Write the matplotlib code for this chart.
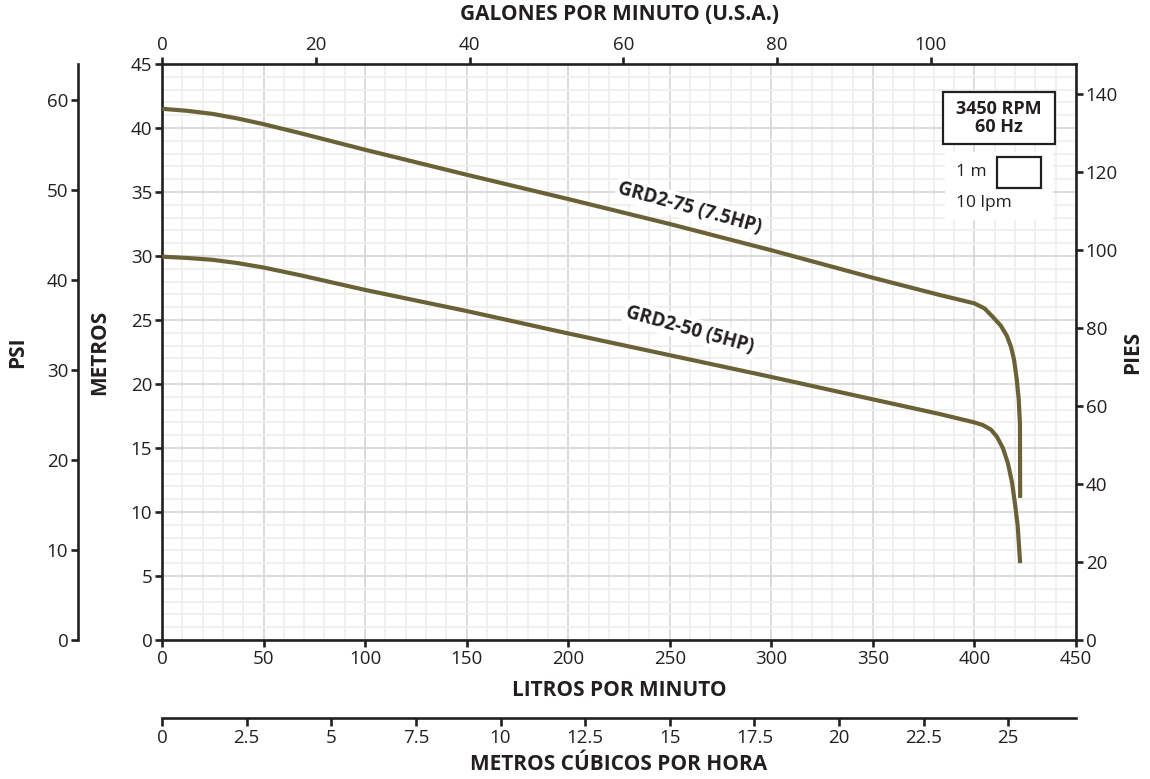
import matplotlib
matplotlib.use("Agg")
import matplotlib.pyplot as plt
from matplotlib.patches import Rectangle
from matplotlib.ticker import MultipleLocator, FuncFormatter
import numpy as np

plt.rcParams['font.family'] = ['Open Sans', 'DejaVu Sans']

# ---- data (flow in litres per minute, head in metres) ----
grd75_lpm = [0, 12, 25, 37, 50, 68, 100, 150, 200, 250, 300, 350, 383, 400, 405, 409, 413, 416, 418, 419.5, 420.8, 421.8, 422.4, 422.5]
grd75_m   = [41.5, 41.35, 41.1, 40.75, 40.3, 39.6, 38.3, 36.35, 34.45, 32.5, 30.45, 28.3, 26.95, 26.3, 25.9, 25.25, 24.55, 23.75, 22.9, 21.9, 20.4, 18.8, 16.9, 11.1]
grd50_lpm = [0, 12, 25, 37, 50, 68, 100, 150, 200, 250, 300, 350, 383, 400, 404, 408, 411, 414, 416.5, 418.5, 420, 421.3, 422.5]
grd50_m   = [29.95, 29.85, 29.7, 29.45, 29.1, 28.5, 27.35, 25.7, 23.95, 22.25, 20.55, 18.8, 17.65, 17.0, 16.8, 16.45, 15.9, 15.0, 13.8, 12.3, 10.6, 8.9, 6.0]
series_names = ["GRD2-75 (7.5HP)", "GRD2-50 (5HP)"]

lpm_ticks = list(range(0, 451, 50))
m_ticks = list(range(0, 46, 5))
gpm_ticks = list(range(0, 101, 20))
ft_ticks = list(range(0, 141, 20))
psi_ticks = list(range(0, 61, 10))
m3h_ticks = [0, 2.5, 5, 7.5, 10, 12.5, 15, 17.5, 20, 22.5, 25]

LPM_PER_GPM = 3.785411784
FT_PER_M = 3.28084
PSI_PER_M = 1.42197
M3H_PER_LPM = 0.06

W, H = 1150, 779
fig = plt.figure(figsize=(W / 100, H / 100), dpi=100)
L, R, B, T = 162, 1076, 640, 64
ax = fig.add_axes([L / W, 1 - B / H, (R - L) / W, (B - T) / H])

dark = '#231f20'
line_col = '#6a6236'
spw = 1.9
fs = 13.5

ax.set_xlim(0, 450)
ax.set_ylim(0, 45)
ax.set_xticks(lpm_ticks)
ax.set_yticks(m_ticks)
ax.xaxis.set_minor_locator(MultipleLocator(10))
ax.yaxis.set_minor_locator(MultipleLocator(1))
ax.grid(which='minor', color='#efefef', lw=1.3)
ax.grid(which='major', color='#d6d6d6', lw=1.2)
ax.set_axisbelow(True)
ax.tick_params(which='minor', length=0)
ax.tick_params(which='major', direction='out', length=5, width=spw, color=dark,
               labelsize=fs, labelcolor=dark, pad=2)
for s in ax.spines.values():
    s.set_linewidth(spw)
    s.set_color(dark)

ax.plot(grd75_lpm, grd75_m, color=line_col, lw=3.0, solid_capstyle='butt',
        solid_joinstyle='round', zorder=4)
ax.plot(grd50_lpm, grd50_m, color=line_col, lw=3.0, solid_capstyle='butt',
        solid_joinstyle='round', zorder=4)

lab_kw = dict(fontsize=13.5, fontweight='bold', color=dark, ha='center', va='center',
              rotation=-15.5, rotation_mode='anchor', zorder=5,
              bbox=dict(boxstyle='square,pad=0.12', fc='white', ec='none'))
ax.text(260, 33.75, series_names[0], **lab_kw)
ax.text(260, 24.25, series_names[1], **lab_kw)

# info box
ax.add_patch(Rectangle((0.8545, 0.8611), 0.1225, 0.0903, transform=ax.transAxes,
                       fc='white', ec=dark, lw=1.6, zorder=5))
ax.text(0.9158, 0.906, "3450 RPM\n60 Hz", transform=ax.transAxes, ha='center', va='center',
        fontsize=13, fontweight='bold', color=dark, linespacing=1.0, zorder=6)
ax.add_patch(Rectangle((0.8567, 0.729), 0.118, 0.118, transform=ax.transAxes,
                       fc='white', ec='none', zorder=5))
ax.add_patch(Rectangle((0.9136, 0.7847), 0.0481, 0.0538, transform=ax.transAxes,
                       fc='white', ec=dark, lw=1.6, zorder=6))
ax.text(0.8687, 0.8125, "1 m", transform=ax.transAxes, ha='left', va='center',
        fontsize=12.5, color=dark, zorder=6)
ax.text(0.8687, 0.7587, "10 lpm", transform=ax.transAxes, ha='left', va='center',
        fontsize=12.5, color=dark, zorder=6)

fmt = FuncFormatter(lambda v, p: f"{v:g}")

# top axis: gallons per minute
axt = ax.twiny()
axt.set_xlim(0, 450 / LPM_PER_GPM)
axt.set_xticks(gpm_ticks)
axt.xaxis.set_major_formatter(fmt)
axt.tick_params(direction='out', length=5, width=spw, color=dark, labelsize=fs, labelcolor=dark, pad=2)
for s in axt.spines.values():
    s.set_visible(False)

# right axis: feet
axr = ax.twinx()
axr.set_ylim(0, 45 * FT_PER_M)
axr.set_yticks(ft_ticks)
axr.tick_params(direction='out', length=5, width=spw, color=dark, labelsize=fs, labelcolor=dark, pad=2)
for s in axr.spines.values():
    s.set_visible(False)

# far-left axis: psi
axp = ax.twinx()
axp.set_ylim(0, 45 * PSI_PER_M)
axp.set_yticks(psi_ticks)
axp.yaxis.set_ticks_position('left')
axp.yaxis.set_label_position('left')
for k, s in axp.spines.items():
    s.set_visible(k == 'left')
axp.spines['left'].set_position(('axes', -84 / (R - L)))
axp.spines['left'].set_linewidth(spw)
axp.spines['left'].set_color(dark)
axp.tick_params(direction='out', length=5, width=spw, color=dark, labelsize=fs, labelcolor=dark, pad=2)

# lower axis: cubic metres per hour
axm = ax.twiny()
axm.set_xlim(0, 450 * M3H_PER_LPM)
axm.set_xticks(m3h_ticks)
axm.xaxis.set_major_formatter(fmt)
axm.xaxis.set_ticks_position('bottom')
for k, s in axm.spines.items():
    s.set_visible(k == 'bottom')
axm.spines['bottom'].set_position(('axes', -78 / (B - T)))
axm.spines['bottom'].set_linewidth(spw)
axm.spines['bottom'].set_color(dark)
axm.tick_params(direction='out', length=6, width=spw, color=dark, labelsize=fs, labelcolor=dark, pad=2)

# axis titles
tk = dict(transform=ax.transAxes, fontsize=15, fontweight='bold', color=dark, ha='center', va='center')
ax.text(0.5, (B - 690) / (B - T), "LITROS POR MINUTO", **tk)
ax.text(0.5, (B - 765) / (B - T), "METROS CÚBICOS POR HORA", **tk)
ax.text(0.5, (B - 15) / (B - T), "GALONES POR MINUTO (U.S.A.)", **tk)
ax.text((18 - L) / (R - L), 0.5, "PSI", rotation=90, **tk)
ax.text((100 - L) / (R - L), 0.5, "METROS", rotation=90, **tk)
ax.text((1133 - L) / (R - L), 0.5, "PIES", rotation=90, **tk)

fig.savefig("out.png", dpi=100)
